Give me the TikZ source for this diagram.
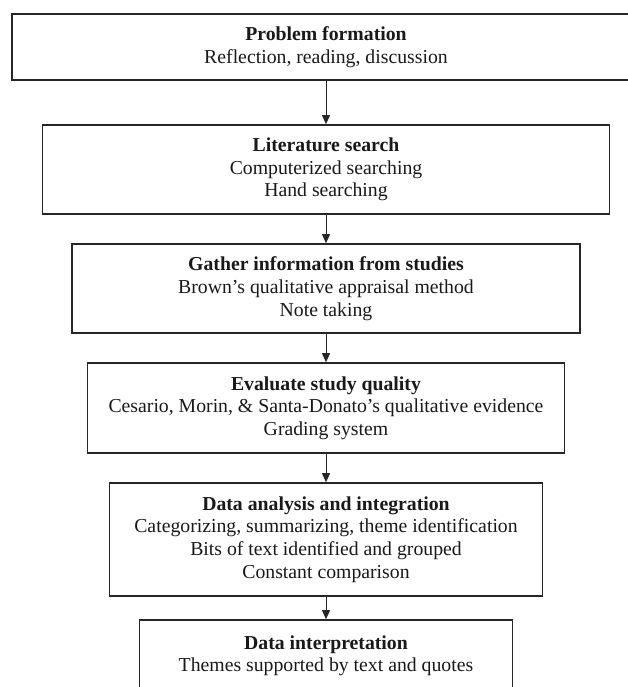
\documentclass[tikz,border=0pt]{standalone}
\usepackage{fontspec}
\setmainfont{Liberation Serif}
\usetikzlibrary{arrows.meta}
\begin{document}
\begin{tikzpicture}[x=1pt,y=-1pt,
  stepbox/.style={draw=black!85, line width=1.7pt, align=center, inner sep=0pt,
    font=\fontsize{19.75}{22.7}\selectfont, text=black!90},
  flow/.style={draw=black!85, line width=1pt, -{Triangle[length=9pt,width=8pt]}}]
\useasboundingbox (0,0) rectangle (627,687);
\node[stepbox, minimum width=628pt, minimum height=66pt] (b1) at (326,47)
  {\textbf{Problem formation}\\Reflection, reading, discussion};
\node[stepbox, minimum width=567pt, minimum height=89pt] (b2) at (326,169.5)
  {\textbf{Literature search}\\Computerized searching\\Hand searching};
\node[stepbox, minimum width=508pt, minimum height=89pt] (b3) at (326,288.5)
  {\textbf{Gather information from studies}\\Brown’s qualitative appraisal method\\Note taking};
\node[stepbox, minimum width=477pt, minimum height=90pt] (b4) at (326,408)
  {\textbf{Evaluate study quality}\\Cesario, Morin, \& Santa-Donato’s qualitative evidence\\Grading system};
\node[stepbox, minimum width=433pt, minimum height=113pt] (b5) at (326,539.5)
  {\textbf{Data analysis and integration}\\Categorizing, summarizing, theme identification\\Bits of text identified and grouped\\Constant comparison};
\node[stepbox, minimum width=373pt, minimum height=90pt] (b6) at (326,665)
  {\textbf{Data interpretation}\\Themes supported by text and quotes\\\mbox{}};
\draw[flow] (b1.south) -- (b2.north);
\draw[flow] (b2.south) -- (b3.north);
\draw[flow] (b3.south) -- (b4.north);
\draw[flow] (b4.south) -- (b5.north);
\draw[flow] (b5.south) -- (b6.north);
\end{tikzpicture}
\end{document}
